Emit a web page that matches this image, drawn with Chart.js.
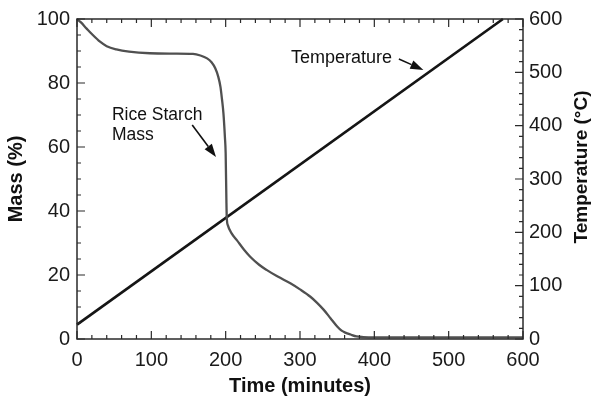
<!DOCTYPE html>
<html>
<head>
<meta charset="utf-8">
<script src="https://cdn.jsdelivr.net/npm/chart.js@4.4.0/dist/chart.umd.min.js"></script>
<style>
html, body { margin: 0; padding: 0; background: #fff; }
#wrap { width: 594px; height: 401px; }
</style>
</head>
<body>
<div id="wrap"><canvas id="tgaChart"></canvas></div>
<script>
// rice starch mass loss
var massTime = [0, 5, 13, 20, 31, 40, 53, 70, 98, 130, 156, 166, 175, 181, 186, 190, 193, 195, 197, 199, 200, 201, 201.5, 203, 208, 215, 225, 233, 245, 255, 270, 287, 300, 314, 323, 332, 341, 350, 356, 361, 368, 376, 385, 400, 500, 600];
var massPct = [100, 99, 97, 95.3, 92.9, 91.5, 90.5, 89.8, 89.3, 89.2, 89.1, 88.6, 87.7, 86.5, 84.6, 82, 78.8, 75, 70.5, 63, 58, 43, 37.9, 35.5, 33, 30.9, 27.8, 25.7, 23.2, 21.6, 19.5, 17.4, 15.5, 13.2, 11.3, 9.1, 6.5, 3.9, 2.6, 2.0, 1.4, 0.8, 0.6, 0.5, 0.5, 0.5];
// heating ramp
var tempTime = [0, 573];
var tempC = [27, 600];

var timeTicks = [0, 100, 200, 300, 400, 500, 600];
var massTicks = [0, 20, 40, 60, 80, 100];
var tempTicks = [0, 100, 200, 300, 400, 500, 600];

var FONT = "'Liberation Sans', Arial, Helvetica, sans-serif";

function pts(xs, ys) {
  return xs.map(function(x, i) { return {x: x, y: ys[i]}; });
}

function arrow(ctx, x0, y0, x1, y1) {
  var ang = Math.atan2(y1 - y0, x1 - x0), head = 13, w = 4.5;
  var c = Math.cos(ang), s = Math.sin(ang);
  ctx.beginPath();
  ctx.moveTo(x0, y0);
  ctx.lineTo(x1 - head * c, y1 - head * s);
  ctx.stroke();
  ctx.beginPath();
  ctx.moveTo(x1, y1);
  ctx.lineTo(x1 - head * c + w * s, y1 - head * s - w * c);
  ctx.lineTo(x1 - head * c - w * s, y1 - head * s + w * c);
  ctx.closePath();
  ctx.fill();
}

// frame, inward ticks, labels and arrows
var frameTicks = {
  id: 'frameTicks',
  afterDatasetsDraw: function(chart) {
    var ctx = chart.ctx, a = chart.chartArea;
    var x = chart.scales.x, yM = chart.scales.y, yT = chart.scales.yT;
    var v, p, len;
    ctx.save();
    ctx.strokeStyle = '#2a2a2a';
    ctx.fillStyle = '#111';
    ctx.lineWidth = 1.5;
    ctx.strokeRect(a.left, a.top, a.right - a.left, a.bottom - a.top);
    ctx.lineWidth = 1.2;
    ctx.beginPath();
    for (v = 0; v <= 600; v += 20) {
      p = x.getPixelForValue(v); len = v % 100 === 0 ? 8 : 4;
      ctx.moveTo(p, a.bottom); ctx.lineTo(p, a.bottom - len);
      ctx.moveTo(p, a.top); ctx.lineTo(p, a.top + len);
    }
    for (v = 0; v <= 100; v += 5) {
      p = yM.getPixelForValue(v); len = v % 20 === 0 ? 8 : 4;
      ctx.moveTo(a.left, p); ctx.lineTo(a.left + len, p);
    }
    for (v = 0; v <= 600; v += 20) {
      p = yT.getPixelForValue(v); len = v % 100 === 0 ? 8 : 4;
      ctx.moveTo(a.right, p); ctx.lineTo(a.right - len, p);
    }
    ctx.stroke();

    // annotations
    ctx.font = '17.5px ' + FONT;
    ctx.textAlign = 'left';
    ctx.textBaseline = 'alphabetic';
    var rx = x.getPixelForValue(47), ry = yM.getPixelForValue(68.4);
    ctx.fillText('Rice Starch', rx, ry);
    ctx.fillText('Mass', rx, ry + 20);
    ctx.lineWidth = 1.6;
    ctx.strokeStyle = '#111';
    arrow(ctx, x.getPixelForValue(155), yM.getPixelForValue(66.9),
               x.getPixelForValue(187), yM.getPixelForValue(56.9));
    ctx.font = '18px ' + FONT;
    ctx.fillText('Temperature', x.getPixelForValue(288), yT.getPixelForValue(516.6));
    arrow(ctx, x.getPixelForValue(433), yT.getPixelForValue(525),
               x.getPixelForValue(466), yT.getPixelForValue(504.6));

    // right axis title reads bottom-to-top like the left one
    ctx.font = 'bold 19px ' + FONT;
    ctx.textAlign = 'center';
    ctx.textBaseline = 'middle';
    ctx.translate(yT.right - 12, (a.top + a.bottom) / 2 - 12);
    ctx.rotate(-Math.PI / 2);
    ctx.fillText('Temperature (\u00B0C)', 0, 0);
    ctx.restore();
  }
};

var tickFont = {family: FONT, size: 20};
var titleFont = {family: FONT, size: 20, weight: 'bold'};

new Chart(document.getElementById('tgaChart'), {
  type: 'line',
  data: {
    datasets: [{
      label: 'Rice Starch Mass',
      data: pts(massTime, massPct),
      yAxisID: 'y',
      borderColor: '#505050',
      borderWidth: 2.3,
      pointRadius: 0,
      cubicInterpolationMode: 'monotone',
      clip: 3
    }, {
      label: 'Temperature',
      data: pts(tempTime, tempC),
      yAxisID: 'yT',
      borderColor: '#151515',
      borderWidth: 2.7,
      pointRadius: 0,
      clip: 3
    }]
  },
  options: {
    responsive: true,
    maintainAspectRatio: false,
    animation: false,
    layout: {padding: {top: 19, left: 0, right: 0, bottom: 0}},
    plugins: {legend: {display: false}, tooltip: {enabled: false}},
    scales: {
      x: {
        type: 'linear', min: 0, max: 600,
        afterBuildTicks: function(s) { s.ticks = timeTicks.map(function(v) { return {value: v}; }); },
        afterFit: function(s) { s.height = 62; s.paddingLeft = 0; s.paddingRight = 0; },
        grid: {display: false, drawTicks: false},
        border: {display: false},
        ticks: {font: tickFont, color: '#1a1a1a', padding: 9, maxRotation: 0},
        title: {display: true, text: 'Time (minutes)', font: titleFont, color: '#111', padding: {top: 0, bottom: 3}}
      },
      y: {
        type: 'linear', position: 'left', min: 0, max: 100,
        afterBuildTicks: function(s) { s.ticks = massTicks.map(function(v) { return {value: v}; }); },
        afterFit: function(s) { s.width = 77; s.paddingTop = 0; s.paddingBottom = 0; },
        grid: {display: false, drawTicks: false},
        border: {display: false},
        ticks: {font: tickFont, color: '#1a1a1a', padding: 7},
        title: {display: true, text: 'Mass (%)', font: titleFont, color: '#111', padding: {top: 4, bottom: 0}}
      },
      yT: {
        type: 'linear', position: 'right', min: 0, max: 600,
        afterBuildTicks: function(s) { s.ticks = tempTicks.map(function(v) { return {value: v}; }); },
        afterFit: function(s) { s.width = 71; s.paddingTop = 0; s.paddingBottom = 0; },
        grid: {display: false, drawTicks: false},
        border: {display: false},
        ticks: {font: tickFont, color: '#1a1a1a', padding: 6}
      }
    }
  },
  plugins: [frameTicks]
});
</script>
</body>
</html>
